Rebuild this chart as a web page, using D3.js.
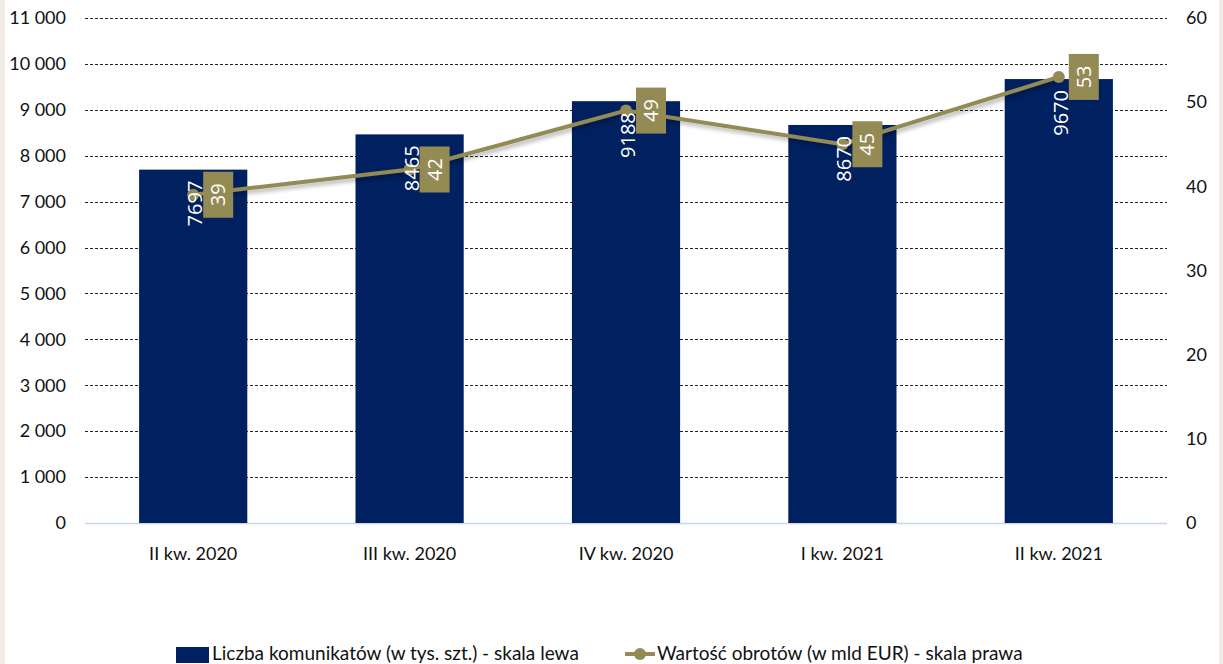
<!DOCTYPE html>
<html>
<head>
<meta charset="utf-8">
<script src="https://cdn.jsdelivr.net/npm/d3@7"></script>
<style>
  body { margin: 0; background: #f0ece4; }
  svg { display: block; }
</style>
</head>
<body>
<svg id="chart" width="1223" height="664"></svg>
<script>
// data
var categories = ["II kw. 2020", "III kw. 2020", "IV kw. 2020", "I kw. 2021", "II kw. 2021"];
var messages = [7697, 8465, 9188, 8670, 9670];      // left scale
var turnover = [39, 42, 49, 45, 53];                 // right scale
var leftTicks = [0, 1000, 2000, 3000, 4000, 5000, 6000, 7000, 8000, 9000, 10000, 11000];
var rightTicks = [0, 10, 20, 30, 40, 50, 60];
var legendBars = "Liczba komunikatów (w tys. szt.) - skala lewa";
var legendLine = "Wartość obrotów (w mld EUR) - skala prawa";

var navy = "#002060", olive = "#948a54";
var margin = {left: 85, right: 1167, top: 18, bottom: 523};

var svg = d3.select("#chart");

// white panel with beige edges
svg.append("rect").attr("x", 5).attr("y", 0).attr("width", 1214).attr("height", 664).attr("fill", "#ffffff");

var defs = svg.append("defs");
var f = defs.append("filter").attr("id", "shadow").attr("x", "-10%").attr("y", "-50%").attr("width", "120%").attr("height", "200%");
f.append("feDropShadow").attr("dx", 2).attr("dy", 3).attr("stdDeviation", 2).attr("flood-color", "#000").attr("flood-opacity", 0.3);

var x = d3.scaleBand().domain(categories).range([margin.left, margin.right]).paddingInner(0.5).paddingOuter(0.25);
var yL = d3.scaleLinear().domain([0, 11000]).range([margin.bottom, margin.top]);
var yR = d3.scaleLinear().domain([0, 60]).range([margin.bottom, margin.top]);

var fmt = d3.formatLocale({decimal: ",", thousands: " ", grouping: [3], currency: ["", ""]}).format(",d");

// gridlines
svg.append("g").selectAll("line").data(leftTicks.filter(function(d){ return d > 0; })).enter().append("line")
  .attr("x1", margin.left).attr("x2", margin.right)
  .attr("y1", function(d){ return Math.round(yL(d)) + 0.5; })
  .attr("y2", function(d){ return Math.round(yL(d)) + 0.5; })
  .attr("stroke", "#222").attr("stroke-width", 1).attr("stroke-dasharray", "3,2");

svg.append("line").attr("x1", margin.left).attr("x2", margin.right)
  .attr("y1", yL(0) + 0.5).attr("y2", yL(0) + 0.5)
  .attr("stroke", "#c6d6ec").attr("stroke-width", 1.5);

// axes
var leftAxis = svg.append("g").attr("transform", "translate(" + (margin.left - 19) + ",0)")
  .call(d3.axisLeft(yL).tickValues(leftTicks).tickSize(0).tickFormat(fmt));
var rightAxis = svg.append("g").attr("transform", "translate(" + (margin.right + 19) + ",0)")
  .call(d3.axisRight(yR).tickValues(rightTicks).tickSize(0));
var bottomAxis = svg.append("g").attr("transform", "translate(0," + (margin.bottom + 21) + ")")
  .call(d3.axisBottom(x).tickSize(0));
[leftAxis, rightAxis, bottomAxis].forEach(function(a){
  a.select(".domain").remove();
  a.selectAll("text").attr("font-family", "Lato, 'Open Sans', sans-serif").attr("font-size", 18).attr("fill", "#111");
});
leftAxis.selectAll("text").attr("x", 0);
rightAxis.selectAll("text").attr("x", 0);

// bars
svg.append("g").selectAll("rect").data(messages).enter().append("rect")
  .attr("x", function(d, i){ return x(categories[i]); })
  .attr("y", function(d){ return yL(d); })
  .attr("width", x.bandwidth())
  .attr("height", function(d){ return yL(0) - yL(d); })
  .attr("fill", navy);

// line
var cx = function(i){ return x(categories[i]) + x.bandwidth() / 2; };
var line = d3.line().x(function(d, i){ return cx(i); }).y(function(d){ return yR(d); });
svg.append("path").datum(turnover).attr("d", line)
  .attr("fill", "none").attr("stroke", olive).attr("stroke-width", 4).attr("filter", "url(#shadow)");
svg.append("g").selectAll("circle").data(turnover).enter().append("circle")
  .attr("cx", function(d, i){ return cx(i); }).attr("cy", function(d){ return yR(d); })
  .attr("r", 6).attr("fill", olive);

// bar labels (drawn over the line)
svg.append("g").selectAll("text").data(messages).enter().append("text")
  .attr("transform", function(d, i){
    return "translate(" + (cx(i) + 2) + "," + (yL(d) + 11) + ") rotate(-90)";
  })
  .attr("text-anchor", "end").attr("dy", "0.35em")
  .attr("font-family", "'Open Sans', sans-serif").attr("font-size", 20).attr("fill", "#fff")
  .text(function(d){ return d; });

// line labels
var lbl = svg.append("g").selectAll("g").data(turnover).enter().append("g")
  .attr("transform", function(d, i){ return "translate(" + (cx(i) + 25) + "," + yR(d) + ")"; });
lbl.append("rect").attr("x", -15).attr("y", -23).attr("width", 30).attr("height", 46).attr("fill", olive);
lbl.append("text").attr("transform", "rotate(-90)").attr("text-anchor", "middle").attr("dy", "0.35em")
  .attr("font-family", "'Open Sans', sans-serif").attr("font-size", 20).attr("fill", "#fff")
  .text(function(d){ return d; });

// legend
var lg = svg.append("g");
lg.append("rect").attr("x", 176).attr("y", 647).attr("width", 33).attr("height", 16).attr("fill", navy);
lg.append("text").attr("x", 212).attr("y", 660).text(legendBars);
lg.append("line").attr("x1", 625).attr("x2", 655).attr("y1", 654).attr("y2", 654).attr("stroke", olive).attr("stroke-width", 4);
lg.append("circle").attr("cx", 640).attr("cy", 654).attr("r", 6).attr("fill", olive);
lg.append("text").attr("x", 657).attr("y", 660).text(legendLine);
lg.selectAll("text").attr("font-family", "Lato, 'Open Sans', sans-serif").attr("font-size", 19).attr("fill", "#111");
</script>
</body>
</html>
